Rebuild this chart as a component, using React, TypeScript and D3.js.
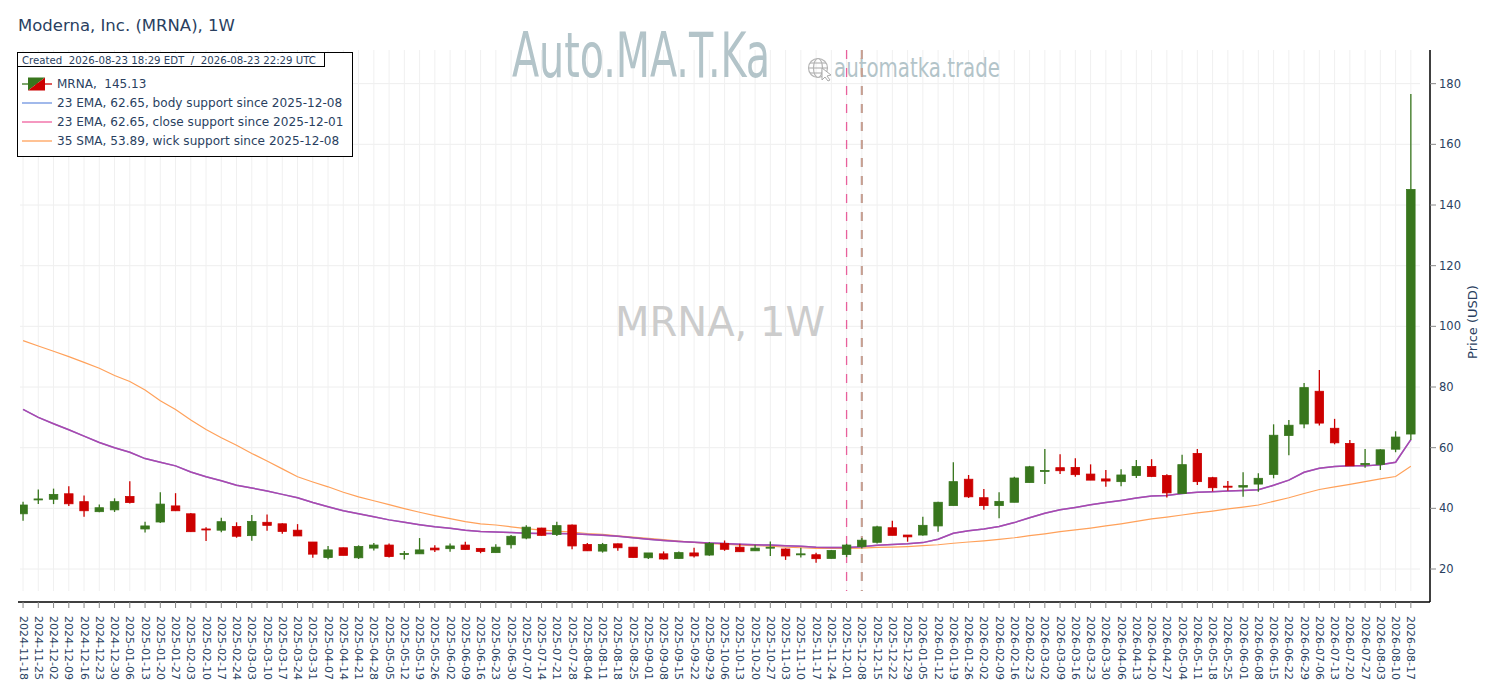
import React from 'react'
import * as d3 from 'd3'

// weekly candles
const dates = [
  '2024-11-18', '2024-11-25', '2024-12-02', '2024-12-09', '2024-12-16', '2024-12-23', '2024-12-30',
  '2025-01-06', '2025-01-13', '2025-01-20', '2025-01-27', '2025-02-03', '2025-02-10', '2025-02-17',
  '2025-02-24', '2025-03-03', '2025-03-10', '2025-03-17', '2025-03-24', '2025-03-31', '2025-04-07',
  '2025-04-14', '2025-04-21', '2025-04-28', '2025-05-05', '2025-05-12', '2025-05-19', '2025-05-26',
  '2025-06-02', '2025-06-09', '2025-06-16', '2025-06-23', '2025-06-30', '2025-07-07', '2025-07-14',
  '2025-07-21', '2025-07-28', '2025-08-04', '2025-08-11', '2025-08-18', '2025-08-25', '2025-09-01',
  '2025-09-08', '2025-09-15', '2025-09-22', '2025-09-29', '2025-10-06', '2025-10-13', '2025-10-20',
  '2025-10-27', '2025-11-03', '2025-11-10', '2025-11-17', '2025-11-24', '2025-12-01', '2025-12-08',
  '2025-12-15', '2025-12-22', '2025-12-29', '2026-01-05', '2026-01-12', '2026-01-19', '2026-01-26',
  '2026-02-02', '2026-02-09', '2026-02-16', '2026-02-23', '2026-03-02', '2026-03-09', '2026-03-16',
  '2026-03-23', '2026-03-30', '2026-04-06', '2026-04-13', '2026-04-20', '2026-04-27', '2026-05-04',
  '2026-05-11', '2026-05-18', '2026-05-25', '2026-06-01', '2026-06-08', '2026-06-15', '2026-06-22',
  '2026-06-29', '2026-07-06', '2026-07-13', '2026-07-20', '2026-07-27', '2026-08-03', '2026-08-10',
  '2026-08-17',
]

const opens = [
  38.2, 42.8, 43.0, 44.8, 42.2, 38.9, 39.5, 43.9, 33.2, 35.5, 40.8, 38.2, 33.2, 32.8, 34.0, 31.0,
  35.4, 34.9, 32.8, 28.9, 23.8, 27.0, 23.7, 26.9, 27.9, 24.9, 25.0, 26.9, 26.7, 27.9, 26.8, 25.4,
  28.0, 30.2, 33.5, 31.4, 34.5, 28.1, 25.9, 28.3, 27.2, 23.7, 25.0, 23.5, 25.3, 24.6, 28.4, 27.2,
  26.0, 27.0, 26.6, 24.8, 24.7, 23.5, 24.8, 27.4, 28.8, 33.6, 31.2, 31.2, 34.2, 40.9, 49.6, 43.5,
  40.9, 42.0, 48.5, 52.2, 53.4, 53.5, 51.3, 49.7, 48.8, 50.8, 53.8, 50.8, 44.9, 58.1, 50.1, 47.3,
  47.0, 48.0, 51.2, 64.0, 67.8, 78.6, 66.4, 61.4, 54.4, 54.5, 59.5, 64.5,
]
const highs = [
  42.2, 46.2, 46.5, 47.3, 44.2, 41.3, 43.3, 48.9, 35.6, 45.3, 45.0, 38.5, 33.8, 36.9, 35.4, 37.8,
  38.0, 35.1, 34.8, 28.9, 27.6, 27.1, 27.8, 28.6, 28.4, 25.9, 30.2, 27.8, 28.4, 29.0, 26.8, 28.2,
  31.2, 34.4, 33.6, 35.6, 34.7, 28.6, 28.6, 28.4, 27.2, 25.3, 25.8, 25.8, 27.0, 28.9, 29.4, 28.3,
  28.0, 29.1, 26.8, 27.0, 25.4, 26.3, 28.3, 30.2, 34.3, 35.9, 31.2, 37.2, 42.2, 55.2, 51.0, 46.4,
  45.3, 50.4, 54.0, 59.6, 57.8, 56.5, 54.5, 52.6, 52.9, 55.9, 56.2, 51.2, 57.7, 59.6, 50.4, 49.0,
  51.9, 51.6, 67.7, 69.1, 81.3, 85.6, 69.5, 62.5, 59.6, 59.5, 65.4, 176.6,
]
const lows = [
  35.9, 41.4, 41.4, 40.8, 37.2, 38.7, 38.8, 41.6, 32.0, 35.2, 39.1, 32.2, 29.2, 32.1, 30.3, 29.3,
  32.6, 31.6, 30.9, 23.7, 23.2, 24.5, 23.3, 26.1, 23.8, 23.1, 25.0, 25.6, 25.7, 26.3, 25.2, 25.4,
  26.8, 29.8, 31.0, 30.9, 26.5, 25.9, 25.4, 26.0, 23.8, 23.3, 23.1, 23.4, 23.8, 24.4, 26.0, 25.6,
  25.9, 24.3, 23.0, 23.8, 22.1, 23.5, 23.9, 26.8, 28.4, 31.1, 29.0, 31.0, 32.3, 40.9, 43.4, 39.5,
  36.7, 42.0, 48.5, 48.0, 51.3, 50.4, 49.3, 47.1, 47.3, 50.0, 50.3, 43.6, 44.9, 47.7, 45.6, 45.8,
  43.8, 45.5, 49.9, 57.5, 66.4, 67.3, 61.1, 54.0, 53.4, 52.6, 58.5, 62.5,
]
const closes = [
  41.1, 43.1, 44.6, 41.5, 39.2, 40.2, 42.2, 41.9, 34.2, 41.4, 39.2, 32.3, 32.9, 35.6, 30.8, 35.7,
  34.4, 32.4, 30.9, 24.9, 26.3, 24.5, 27.4, 27.9, 24.1, 25.1, 26.3, 26.3, 27.6, 26.4, 25.8, 27.2,
  30.8, 33.8, 31.1, 34.3, 27.6, 26.0, 28.1, 27.0, 23.8, 25.3, 23.3, 25.4, 24.3, 28.4, 26.5, 25.7,
  26.9, 27.2, 24.3, 25.0, 23.4, 26.1, 27.9, 29.5, 33.9, 31.1, 30.6, 34.4, 42.0, 48.8, 43.8, 40.9,
  42.3, 50.0, 53.7, 52.5, 52.4, 51.1, 49.3, 49.0, 51.0, 53.8, 50.5, 45.1, 54.4, 48.8, 46.8, 47.0,
  47.5, 49.9, 64.1, 67.4, 79.8, 68.1, 61.6, 54.0, 54.8, 59.3, 63.5, 145.13,
]

// 23 EMA (drawn twice: body and close support) and 35 SMA
const ema23 = [
  72.6, 70.0, 67.9, 65.9, 63.8, 61.7, 60.0, 58.5, 56.4, 55.2, 54.0, 52.0, 50.4, 49.1, 47.6, 46.7,
  45.7, 44.6, 43.5, 41.9, 40.5, 39.2, 38.2, 37.2, 36.2, 35.4, 34.6, 33.9, 33.4, 32.8, 32.4, 32.2,
  32.0, 31.8, 31.7, 31.7, 31.6, 31.4, 31.1, 30.8, 30.3, 29.8, 29.4, 29.1, 28.8, 28.6, 28.4, 28.2,
  28.0, 27.9, 27.7, 27.5, 27.2, 27.1, 27.1, 27.3, 27.8, 28.1, 28.3, 28.7, 29.8, 31.8, 32.6, 33.2,
  34.0, 35.3, 36.9, 38.4, 39.5, 40.3, 41.2, 41.9, 42.6, 43.4, 44.1, 44.2, 44.9, 45.3, 45.5, 45.7,
  45.9, 46.1, 47.6, 49.3, 51.9, 53.2, 53.8, 54.0, 54.0, 54.4, 55.2, 62.65,
]
const sma35 = [
  95.3, 93.5, 91.8, 90.0, 88.1, 86.2, 83.8, 81.8, 79.0, 75.5, 72.6, 69.1, 66.0, 63.3, 60.8, 58.1,
  55.6, 53.0, 50.4, 48.7, 47.1, 45.3, 43.8, 42.5, 41.2, 39.9, 38.7, 37.6, 36.6, 35.6, 34.9, 34.5,
  33.9, 33.3, 32.8, 32.5, 32.2, 31.7, 31.4, 30.9, 30.5, 30.1, 29.7, 29.2, 28.8, 28.4, 28.2, 27.9,
  27.7, 27.5, 27.2, 27.0, 26.8, 26.8, 26.8, 26.9, 27.1, 27.2, 27.4, 27.7, 28.0, 28.5, 28.9, 29.3,
  29.8, 30.3, 31.0, 31.6, 32.3, 32.9, 33.5, 34.2, 34.9, 35.7, 36.5, 37.1, 37.8, 38.5, 39.1, 39.8,
  40.4, 41.1, 42.3, 43.5, 44.9, 46.2, 47.1, 47.9, 48.8, 49.7, 50.5, 53.89,
]

const yTicks = [20, 40, 60, 80, 100, 120, 140, 160, 180]
const closeSupportDate = '2025-12-01'
const bodySupportDate = '2025-12-08'
const wickSupportDate = '2025-12-08'

const legendItems = [
  { label: '23 EMA, 62.65, body support since 2025-12-08', color: '#6f93e0' },
  { label: '23 EMA, 62.65, close support since 2025-12-01', color: '#f0609e' },
  { label: '35 SMA, 53.89, wick support since 2025-12-08', color: '#ffa15a' },
]

const UP = '#38761d'
const DOWN = '#cc0000'
const FONT = '"DejaVu Sans", Verdana, sans-serif'
const NARROW = '"DejaVu Sans Condensed", "Liberation Sans Narrow", sans-serif'
const TEXT = '#2a3f5f'
const MARK = '#b3c4c9'

const left = 20
const right = 1420
const top = 50
const bottom = 591
const axisY = 602
const axisX = 1430

export default function App() {
  const xScale = d3.scaleLinear().domain([-0.2, 91.6]).range([left, right])
  const yScale = d3.scaleLinear().domain([12.75, 191.1]).range([bottom, top])

  const line = d3
    .line<number>()
    .x((_, i) => xScale(i))
    .y((v) => yScale(v))

  const bodyW = 8.5
  const xOf = (d: string) => xScale(dates.indexOf(d))

  return (
    <svg width={1500} height={700} style={{ position: 'absolute', left: 0, top: 0, background: '#fff' }}>
      <defs>
        <clipPath id="plot">
          <rect x={left} y={top} width={right - left} height={bottom - top} />
        </clipPath>
      </defs>

      {/* grid */}
      {yTicks.map((t) => (
        <line key={'gy' + t} x1={left} x2={right} y1={yScale(t)} y2={yScale(t)} stroke="#eeeeee" />
      ))}
      {dates.map((d, i) => (
        <line key={'gx' + d} x1={xScale(i)} x2={xScale(i)} y1={top} y2={bottom} stroke="#f0f0f0" />
      ))}

      {/* watermarks */}
      <g transform="translate(512,77) scale(1,1.45)">
        <text x={0} y={0} fontFamily={NARROW} fontSize={43} fill={MARK}
          textLength={258} lengthAdjust="spacingAndGlyphs">Auto.MA.T.Ka</text>
      </g>
      <g stroke="#b5b5b5" fill="none" strokeWidth={1.2}>
        <circle cx={818} cy={68} r={9.5} />
        <ellipse cx={818} cy={68} rx={4.5} ry={9.5} />
        <line x1={808.5} x2={827.5} y1={68} y2={68} />
        <line x1={810} x2={826} y1={63} y2={63} />
        <line x1={810} x2={826} y1={73} y2={73} />
      </g>
      <path d="M822,68 L822,80 L825,77 L828,81 L830,80 L827,76 L831,75 Z" fill="#fff" stroke="#aaa" strokeWidth={1} />
      <g transform="translate(834,77) scale(1,1.2)">
        <text x={0} y={0} fontFamily={NARROW} fontSize={22} fill={MARK}
          textLength={166} lengthAdjust="spacingAndGlyphs">automatka.trade</text>
      </g>
      <text x={(left + right) / 2} y={322} textAnchor="middle" dominantBaseline="central"
        fontFamily={FONT} fontSize={40} fill="#cccccc">MRNA, 1W</text>

      {/* support markers */}
      <line x1={xOf(closeSupportDate)} x2={xOf(closeSupportDate)} y1={top} y2={bottom}
        stroke="#e8609c" strokeWidth={1.3} strokeDasharray="9,9" />
      <line x1={xOf(bodySupportDate)} x2={xOf(bodySupportDate)} y1={top} y2={bottom}
        stroke="#7aa0e0" strokeWidth={2} strokeDasharray="9,9" />
      <line x1={xOf(wickSupportDate)} x2={xOf(wickSupportDate)} y1={top} y2={bottom}
        stroke="#ffa15a" strokeWidth={2} strokeDasharray="9,9" opacity={0.6} />

      <g clipPath="url(#plot)">
        <path d={line(sma35) || ''} fill="none" stroke="#ffa15a" strokeWidth={1.2} />
        <path d={line(ema23) || ''} fill="none" stroke="#5a78d8" strokeWidth={1.5} />
        <path d={line(ema23) || ''} fill="none" stroke="#d0309a" strokeWidth={1.5} opacity={0.7} />

        {dates.map((d, i) => {
          const o = opens[i]
          const c = closes[i]
          const color = c >= o ? UP : DOWN
          const x = xScale(i)
          const yTop = yScale(Math.max(o, c))
          const yBot = yScale(Math.min(o, c))
          return (
            <g key={'c' + d}>
              <line x1={x} x2={x} y1={yScale(highs[i])} y2={yScale(lows[i])} stroke={color} strokeWidth={1.3} />
              <rect x={x - bodyW / 2} width={bodyW} y={yTop} height={Math.max(1, yBot - yTop)}
                fill={color} stroke={color} strokeWidth={0.8} />
            </g>
          )
        })}
      </g>

      {/* x axis */}
      <line x1={18} x2={axisX} y1={axisY} y2={axisY} stroke="#000" strokeWidth={1.5} />
      {dates.map((d, i) => (
        <g key={'xt' + d}>
          <line x1={xScale(i)} x2={xScale(i)} y1={axisY} y2={axisY + 6} stroke="#888" />
          <text transform={`translate(${xScale(i)},${axisY + 14}) rotate(90)`} dominantBaseline="central"
            fontFamily={FONT} fontSize={11} fill={TEXT}>{d}</text>
        </g>
      ))}

      {/* y axis */}
      <line x1={axisX} x2={axisX} y1={top} y2={axisY} stroke="#000" strokeWidth={1.5} />
      {yTicks.map((t) => (
        <g key={'yt' + t}>
          <line x1={axisX} x2={axisX + 6} y1={yScale(t)} y2={yScale(t)} stroke="#888" />
          <text x={axisX + 9} y={yScale(t)} dominantBaseline="central" fontFamily={FONT} fontSize={11.5} fill={TEXT}>{t}</text>
        </g>
      ))}
      <text transform="translate(1472,322) rotate(-90)" textAnchor="middle" dominantBaseline="central"
        fontFamily={FONT} fontSize={13} fill={TEXT}>Price (USD)</text>

      {/* title */}
      <text x={18} y={31} fontFamily={FONT} fontSize={16.5} fill={TEXT}>Moderna, Inc. (MRNA), 1W</text>

      {/* legend */}
      <rect x={17.5} y={52.5} width={335} height={104} fill="#fff" stroke="#000" />
      <rect x={17.5} y={52.5} width={307} height={14} fill="#fff" stroke="#000" />
      <text x={22} y={63.5} fontFamily={FONT} fontSize={10.2} fill={TEXT} style={{ whiteSpace: 'pre' }}>
        {'Created  2026-08-23 18:29 EDT  /  2026-08-23 22:29 UTC'}
      </text>
      <line x1={22} x2={36} y1={84} y2={84} stroke={UP} strokeWidth={1.3} />
      <line x1={36} x2={52} y1={84} y2={84} stroke={DOWN} strokeWidth={1.3} />
      <path d="M28,77.5 L45,77.5 L28,90.5 Z" fill={UP} />
      <path d="M45,77.5 L45,90.5 L28,90.5 Z" fill={DOWN} />
      <text x={57} y={84} dominantBaseline="central" fontFamily={FONT} fontSize={12} fill={TEXT}
        style={{ whiteSpace: 'pre' }}>{'MRNA,  145.13'}</text>
      {legendItems.map((it, k) => (
        <g key={it.label}>
          <line x1={22} x2={52} y1={103 + k * 19} y2={103 + k * 19} stroke={it.color} strokeWidth={1.3} />
          <text x={57} y={103 + k * 19} dominantBaseline="central" fontFamily={FONT} fontSize={12.1} fill={TEXT}>{it.label}</text>
        </g>
      ))}
    </svg>
  )
}
